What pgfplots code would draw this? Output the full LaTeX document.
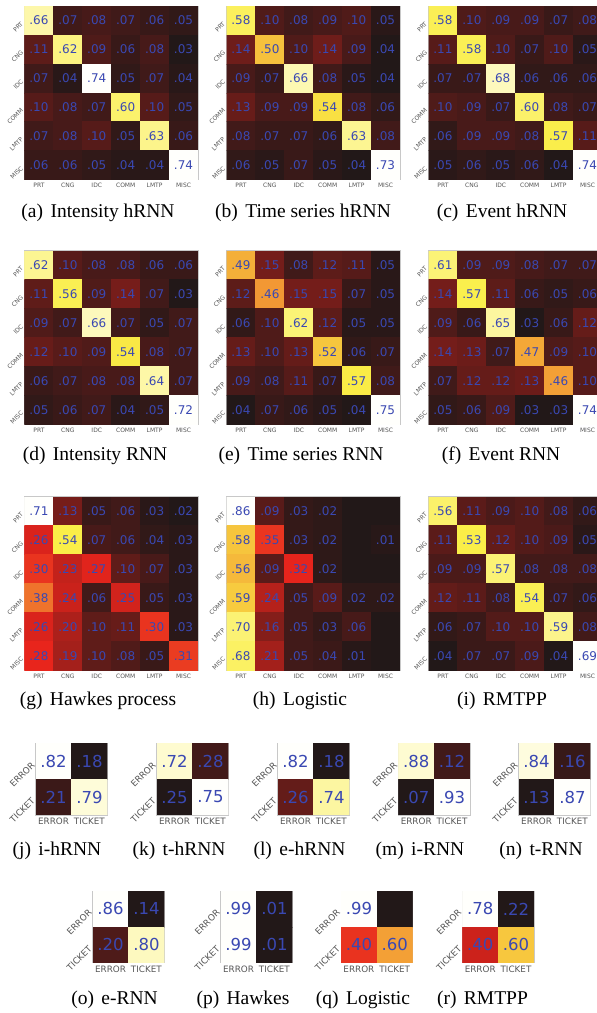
\documentclass[border=0pt]{standalone}
\usepackage{pgfplots}
\pgfplotsset{compat=1.18}
\usepackage{pgfplotstable}
\usepackage{fontspec}
\setmainfont{Liberation Serif}
\newfontfamily\djv{DejaVu Sans}
\definecolor{numblue}{RGB}{58,72,178}
\definecolor{labgray}{RGB}{85,85,85}
\definecolor{framegray}{RGB}{200,200,200}

% ---------- data (row by row, 6 values per row) ----------
\pgfplotstableread[row sep=\\]{c\\
0.66\\0.07\\0.08\\0.07\\0.06\\0.05\\
0.11\\0.62\\0.09\\0.06\\0.08\\0.03\\
0.07\\0.04\\0.74\\0.05\\0.07\\0.04\\
0.10\\0.08\\0.07\\0.60\\0.10\\0.05\\
0.07\\0.08\\0.10\\0.05\\0.63\\0.06\\
0.06\\0.06\\0.05\\0.04\\0.04\\0.74\\}\tA
\pgfplotstableread[row sep=\\]{c\\
0.58\\0.10\\0.08\\0.09\\0.10\\0.05\\
0.14\\0.50\\0.10\\0.14\\0.09\\0.04\\
0.09\\0.07\\0.66\\0.08\\0.05\\0.04\\
0.13\\0.09\\0.09\\0.54\\0.08\\0.06\\
0.08\\0.07\\0.07\\0.06\\0.63\\0.08\\
0.06\\0.05\\0.07\\0.05\\0.04\\0.73\\}\tB
\pgfplotstableread[row sep=\\]{c\\
0.58\\0.10\\0.09\\0.09\\0.07\\0.08\\
0.11\\0.58\\0.10\\0.07\\0.10\\0.05\\
0.07\\0.07\\0.68\\0.06\\0.06\\0.06\\
0.10\\0.09\\0.07\\0.60\\0.08\\0.07\\
0.06\\0.09\\0.09\\0.08\\0.57\\0.11\\
0.05\\0.06\\0.05\\0.06\\0.04\\0.74\\}\tC
\pgfplotstableread[row sep=\\]{c\\
0.62\\0.10\\0.08\\0.08\\0.06\\0.06\\
0.11\\0.56\\0.09\\0.14\\0.07\\0.03\\
0.09\\0.07\\0.66\\0.07\\0.05\\0.07\\
0.12\\0.10\\0.09\\0.54\\0.08\\0.07\\
0.06\\0.07\\0.08\\0.08\\0.64\\0.07\\
0.05\\0.06\\0.07\\0.04\\0.05\\0.72\\}\tD
\pgfplotstableread[row sep=\\]{c\\
0.49\\0.15\\0.08\\0.12\\0.11\\0.05\\
0.12\\0.46\\0.15\\0.15\\0.07\\0.05\\
0.06\\0.10\\0.62\\0.12\\0.05\\0.05\\
0.13\\0.10\\0.13\\0.52\\0.06\\0.07\\
0.09\\0.08\\0.11\\0.07\\0.57\\0.08\\
0.04\\0.07\\0.06\\0.05\\0.04\\0.75\\}\tE
\pgfplotstableread[row sep=\\]{c\\
0.61\\0.09\\0.09\\0.08\\0.07\\0.07\\
0.14\\0.57\\0.11\\0.06\\0.05\\0.06\\
0.09\\0.06\\0.65\\0.03\\0.06\\0.12\\
0.14\\0.13\\0.07\\0.47\\0.09\\0.10\\
0.07\\0.12\\0.12\\0.13\\0.46\\0.10\\
0.05\\0.06\\0.09\\0.03\\0.03\\0.74\\}\tF
\pgfplotstableread[row sep=\\]{c\\
0.71\\0.13\\0.05\\0.06\\0.03\\0.02\\
0.26\\0.54\\0.07\\0.06\\0.04\\0.03\\
0.30\\0.23\\0.27\\0.10\\0.07\\0.03\\
0.38\\0.24\\0.06\\0.25\\0.05\\0.03\\
0.26\\0.20\\0.10\\0.11\\0.30\\0.03\\
0.28\\0.19\\0.10\\0.08\\0.05\\0.31\\}\tG
\pgfplotstableread[row sep=\\]{c\\
0.86\\0.09\\0.03\\0.02\\0\\0\\
0.58\\0.35\\0.03\\0.02\\0\\0.01\\
0.56\\0.09\\0.32\\0.02\\0\\0\\
0.59\\0.24\\0.05\\0.09\\0.02\\0.02\\
0.70\\0.16\\0.05\\0.03\\0.06\\0\\
0.68\\0.21\\0.05\\0.04\\0.01\\0\\}\tH
\pgfplotstableread[row sep=\\]{c\\
0.56\\0.11\\0.09\\0.10\\0.08\\0.06\\
0.11\\0.53\\0.12\\0.10\\0.09\\0.05\\
0.09\\0.09\\0.57\\0.08\\0.08\\0.08\\
0.12\\0.11\\0.08\\0.54\\0.07\\0.06\\
0.06\\0.07\\0.10\\0.10\\0.59\\0.08\\
0.04\\0.07\\0.07\\0.09\\0.04\\0.69\\}\tI
% 2x2 matrices
\pgfplotstableread[row sep=\\]{c\\0.82\\0.18\\0.21\\0.79\\}\tJ
\pgfplotstableread[row sep=\\]{c\\0.72\\0.28\\0.25\\0.75\\}\tK
\pgfplotstableread[row sep=\\]{c\\0.82\\0.18\\0.26\\0.74\\}\tL
\pgfplotstableread[row sep=\\]{c\\0.88\\0.12\\0.07\\0.93\\}\tM
\pgfplotstableread[row sep=\\]{c\\0.84\\0.16\\0.13\\0.87\\}\tN
\pgfplotstableread[row sep=\\]{c\\0.86\\0.14\\0.20\\0.80\\}\tO
\pgfplotstableread[row sep=\\]{c\\0.99\\0.01\\0.99\\0.01\\}\tP
\pgfplotstableread[row sep=\\]{c\\0.99\\0\\0.40\\0.60\\}\tQ
\pgfplotstableread[row sep=\\]{c\\0.78\\0.22\\0.40\\0.60\\}\tR

\pgfplotsset{
 colormap={mplhot}{[1cm]rgb255(0cm)=(34,24,24) rgb255(3cm)=(232,36,28) rgb255(6cm)=(250,238,70) rgb255(8cm)=(255,255,252)},
 cm/.style={scale only axis, anchor=north west, enlargelimits=false, y dir=reverse,
   colormap name=mplhot, axis line style={draw=framegray, line width=0.7pt},
   major tick length=0pt, tick style={draw=none},
   tick label style={text=labgray},
   yticklabel style={rotate=45, anchor=east}},
 bigmat/.style={cm, width=173.5pt, height=173.5pt,
   xmin=-0.5, xmax=5.5, ymin=-0.5, ymax=5.5,
   xtick={0,...,5}, ytick={0,...,5},
   xticklabels={PRT,CNG,IDC,COMM,LMTP,MISC},
   yticklabels={PRT,CNG,IDC,COMM,LMTP,MISC},
   tick label style={font=\djv\fontsize{6}{7}\selectfont}},
 smallmat/.style={cm, width=71.6pt, height=71.6pt,
   xmin=-0.5, xmax=1.5, ymin=-0.5, ymax=1.5,
   xtick={0,1}, ytick={0,1},
   xticklabels={ERROR,TICKET}, yticklabels={ERROR,TICKET},
   tick label style={font=\djv\fontsize{8.8}{10}\selectfont}},
}
\newcommand{\cellnum}{\ifdim\cv pt>0.001pt\pgfmathprintnumber[fixed,fixed zerofill,precision=2,skip 0.,assume math mode=true]{\cv}\fi}

\newcommand{\BigMat}[2]{%
 \begin{axis}[bigmat, at={#1}]
 \addplot[matrix plot*, mesh/cols=6, point meta=explicit,
   visualization depends on={\thisrow{c}\as\cv},
   nodes near coords={\cellnum},
   every node near coord/.append style={anchor=center, text=numblue, font=\djv\fontsize{12}{12}\selectfont}]
   table[x index=0, y index=0, x expr={\coordindex-6*floor((\coordindex+0.5)/6)}, y expr={floor((\coordindex+0.5)/6)}, meta=c]{#2};
 \end{axis}}
\newcommand{\SmallMat}[2]{%
 \begin{axis}[smallmat, at={#1}]
 \addplot[matrix plot*, mesh/cols=2, point meta=explicit,
   visualization depends on={\thisrow{c}\as\cv},
   nodes near coords={\cellnum},
   every node near coord/.append style={anchor=center, text=numblue, font=\djv\fontsize{16.5}{17}\selectfont}]
   table[x index=0, y index=0, x expr={\coordindex-2*floor((\coordindex+0.5)/2)}, y expr={floor((\coordindex+0.5)/2)}, meta=c]{#2};
 \end{axis}}
\newcommand{\Capt}[3]{\node[anchor=base, font=\fontsize{19.5}{20}\selectfont, inner sep=0pt] at (#1) {(#2)\hspace{0.38em}#3};}

\begin{document}
\begin{tikzpicture}
\useasboundingbox (0pt,0pt) rectangle (597pt,-1013pt);
% row 1
\BigMat{(24.5pt,-6pt)}{\tA}
\BigMat{(226.5pt,-6pt)}{\tB}
\BigMat{(428.5pt,-6pt)}{\tC}
\Capt{98pt,-217.5pt}{a}{Intensity hRNN}
\Capt{303pt,-217.5pt}{b}{Time series hRNN}
\Capt{502pt,-217.5pt}{c}{Event hRNN}
% row 2
\BigMat{(24.5pt,-250.7pt)}{\tD}
\BigMat{(226.5pt,-250.7pt)}{\tE}
\BigMat{(428.5pt,-250.7pt)}{\tF}
\Capt{95pt,-460.5pt}{d}{Intensity RNN}
\Capt{301pt,-460.5pt}{e}{Time series RNN}
\Capt{501pt,-460.5pt}{f}{Event RNN}
% row 3
\BigMat{(24.5pt,-496.7pt)}{\tG}
\BigMat{(226.5pt,-496.7pt)}{\tH}
\BigMat{(428.5pt,-496.7pt)}{\tI}
\Capt{98pt,-705.5pt}{g}{Hawkes process}
\Capt{300pt,-705.5pt}{h}{Logistic}
\Capt{502pt,-705.5pt}{i}{RMTPP}
% row 4
\SmallMat{(35.7pt,-743.3pt)}{\tJ}
\SmallMat{(156.7pt,-743.3pt)}{\tK}
\SmallMat{(277.7pt,-743.3pt)}{\tL}
\SmallMat{(398.3pt,-743.3pt)}{\tM}
\SmallMat{(518.7pt,-743.3pt)}{\tN}
\Capt{57pt,-855.7pt}{j}{i-hRNN}
\Capt{179pt,-855.7pt}{k}{t-hRNN}
\Capt{299.5pt,-855.7pt}{l}{e-hRNN}
\Capt{420pt,-855.7pt}{m}{i-RNN}
\Capt{541pt,-855.7pt}{n}{t-RNN}
% row 5
\SmallMat{(92.7pt,-891pt)}{\tO}
\SmallMat{(220.7pt,-891pt)}{\tP}
\SmallMat{(341pt,-891pt)}{\tQ}
\SmallMat{(462.3pt,-891pt)}{\tR}
\Capt{114.5pt,-1004pt}{o}{e-RNN}
\Capt{243pt,-1004pt}{p}{Hawkes}
\Capt{363pt,-1004pt}{q}{Logistic}
\Capt{482.5pt,-1004pt}{r}{RMTPP}
\end{tikzpicture}
\end{document}
